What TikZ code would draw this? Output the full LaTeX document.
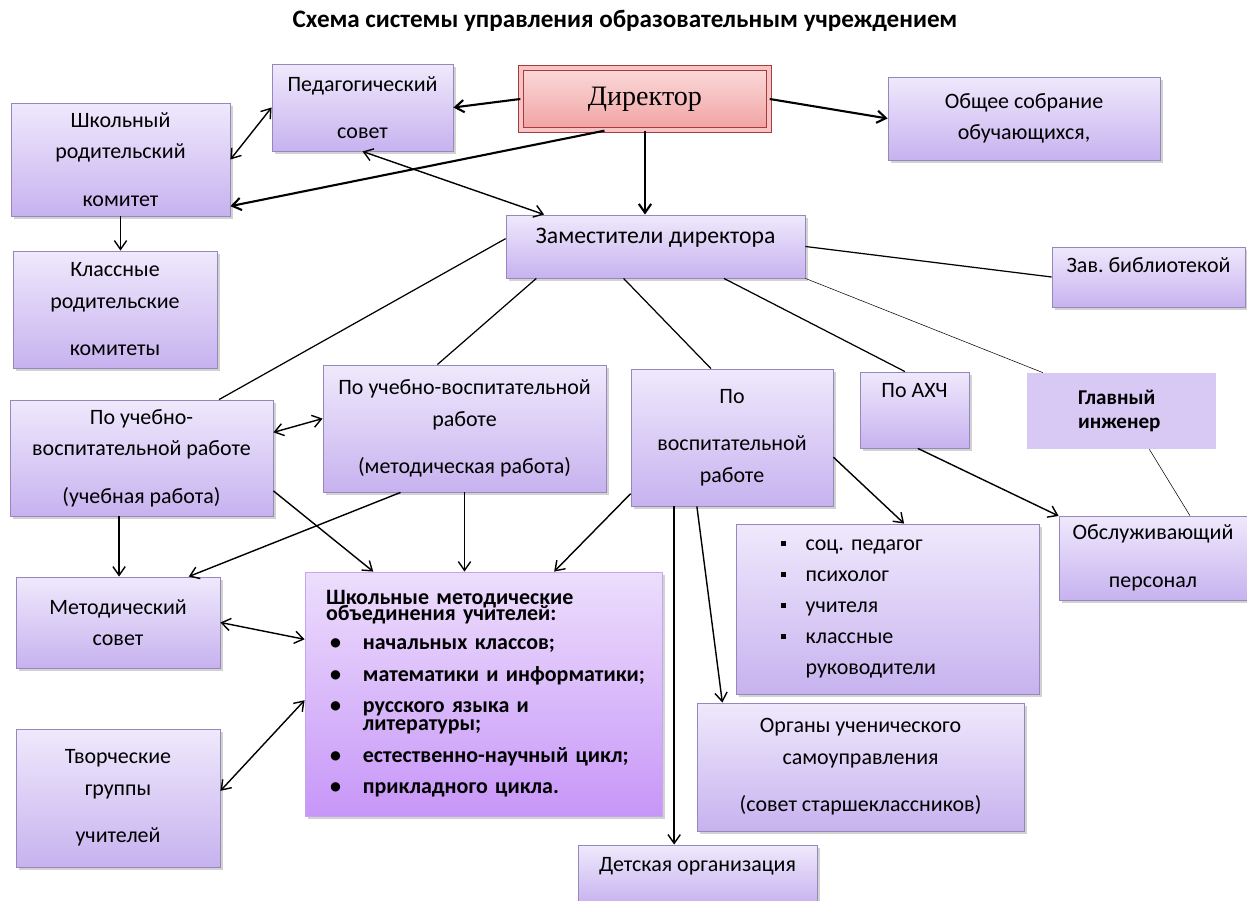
\documentclass[tikz,border=0pt]{standalone}
\usepackage{fontspec}
\setmainfont{Carlito}
\newfontfamily\dirfont{Liberation Serif}
\usepackage{tikz}
\usetikzlibrary{shadows,arrows.meta}

\definecolor{boxtop}{RGB}{239,233,252}
\definecolor{boxbot}{RGB}{199,178,239}
\definecolor{boxline}{RGB}{150,136,186}
\definecolor{shmotop}{RGB}{237,222,252}
\definecolor{shmobot}{RGB}{199,150,248}
\definecolor{shmoline}{RGB}{196,165,238}
\definecolor{dirtop}{RGB}{251,218,218}
\definecolor{dirbot}{RGB}{241,162,162}
\definecolor{dirline}{RGB}{168,58,58}
\definecolor{dirband}{RGB}{246,196,196}
\definecolor{ingfill}{RGB}{216,200,244}

\newcommand\shmohead{\hspace*{5.7pt}}
\newcommand\shmobul{\hspace*{8pt}\makebox[18.7pt][l]{\textbullet}}
\newcommand\specbul{\makebox[14pt][l]{\rule[2.5pt]{3pt}{3pt}}}

\tikzset{
  box/.style={draw=boxline, line width=0.5pt, top color=boxtop, bottom color=boxbot,
    drop shadow={shadow xshift=1.6pt, shadow yshift=-1.6pt, opacity=0.35},
    align=center, inner sep=2pt, font=\fontsize{12.5}{15}\selectfont},
  dirbox/.style={draw=dirline, line width=0.8pt, double=dirband, double distance=2.2pt,
    top color=dirtop, bottom color=dirbot,
    drop shadow={shadow xshift=1.6pt, shadow yshift=-1.6pt, opacity=0.35},
    font=\dirfont\fontsize{16}{19}\selectfont},
  shmobox/.style={draw=shmoline, line width=0.5pt, top color=shmotop, bottom color=shmobot,
    drop shadow={shadow xshift=1.6pt, shadow yshift=-1.6pt, opacity=0.35},
    align=left, font=\fontsize{12.5}{15}\selectfont\bfseries},
  ingbox/.style={fill=ingfill, align=left, font=\fontsize{12}{13.6}\selectfont\bfseries},
  conn/.style={line width=0.7pt},
  thinln/.style={line width=0.3pt},
  arr/.style={->, line width=0.8pt},
  darr/.style={<->, line width=0.8pt},
  dirarr/.style={->, line width=1.2pt}
}

\begin{document}
\begin{tikzpicture}[x=0.02cm, y=-0.02cm, >={Straight Barb[length=5pt,width=7pt]}]
\fill[white] (0,0) rectangle (1247,901);
\useasboundingbox (0,0) rectangle (1247,901);

\node (title) at (625,21) {\fontsize{14.3}{17}\selectfont\bfseries Схема системы управления образовательным учреждением};

\node[dirbox, minimum width=4.96cm, minimum height=1.24cm] at (645,99) (dir) {Директор};
\node[box, minimum width=3.62cm, minimum height=1.74cm] at (362.5,107.5) (ped) {Педагогический\\[12pt]совет};
\node[box, minimum width=4.38cm, minimum height=2.26cm] at (120.5,159.5) (srk) {Школьный\\[3pt]родительский\\[12pt]комитет};
\node[box, minimum width=4.08cm, minimum height=2.34cm] at (115,309.5) (krk) {Классные\\[3pt]родительские\\[12pt]комитеты};
\node[box, minimum width=5.44cm, minimum height=1.66cm] at (1024,118.5) (obs) {Общее собрание\\[3pt]обучающихся,};
\node[box, minimum width=5.98cm, minimum height=1.26cm, text depth=12pt,
    font=\fontsize{13.5}{16}\selectfont] at (655.5,246.5) (zam) {Заместители директора};
\node[box, minimum width=3.86cm, minimum height=1.2cm, text depth=14pt] at (1148.5,277) (lib) {Зав.\ библиотекой};

\node[box, minimum width=5.26cm, minimum height=2.32cm] at (141.5,458) (uvr1) {По учебно-\\[3pt]воспитательной работе\\[12pt](учебная работа)};
\node[box, minimum width=5.66cm, minimum height=2.54cm] at (464.5,428.5) (uvr2) {По учебно-воспитательной\\[3pt]работе\\[12pt](методическая работа)};
\node[box, minimum width=4.04cm, minimum height=2.74cm] at (732,437.5) (vr) {По\\[12pt]воспитательной\\[3pt]работе};
\node[box, minimum width=2.18cm, minimum height=1.52cm, text depth=22pt] at (914.5,410) (ahch) {По АХЧ};
\node[ingbox, text width=1.74cm, inner xsep=1.02cm, minimum height=1.52cm] at (1121.5,411) (ing) {Главный\\инженер};
\node[box, minimum width=3.76cm, minimum height=1.68cm] at (1153,558) (obsl) {Обслуживающий\\[12pt]персонал};

\node[box, minimum width=4.08cm, minimum height=1.82cm] at (118,622.5) (metsov) {Методический\\[3pt]совет};
\node[box, minimum width=4.08cm, minimum height=2.76cm] at (118,798) (tvor) {Творческие\\[3pt]группы\\[12pt]учителей};
\node[shmobox, text width=6.7cm, inner xsep=0.22cm, minimum height=4.88cm] at (483.5,694) (shmo)
  {\shmohead Школьные методические\\[-6pt]\shmohead объединения учителей:\\[1.5pt]
   \shmobul начальных классов;\\[3pt]
   \shmobul математики и информатики;\\[3pt]
   \shmobul русского языка и\\[-5pt]\hspace*{26.7pt}литературы;\\[3pt]
   \shmobul естественно-научный цикл;\\[3pt]
   \shmobul прикладного цикла.};
\node[box, align=left, text width=4.26cm, inner xsep=0.9cm, minimum height=3.4cm] at (887.5,609) (spec)
  {\specbul соц.\ педагог\\[2.6pt]\specbul психолог\\[2.6pt]\specbul учителя\\[2.6pt]\specbul классные\\[2.6pt]\hspace*{14pt}руководители};
\node[box, minimum width=6.54cm, minimum height=2.56cm] at (860.5,767) (org) {Органы ученического\\[3pt]самоуправления\\[12pt](совет старшеклассников)};
\node[box, minimum width=4.78cm, minimum height=1.2cm, text depth=12pt] at (697.5,875) (det) {Детская организация};

\draw[dirarr] (dir.west) -- (ped.east);
\draw[dirarr] (dir.-142) -- (srk.-23);
\draw[dirarr] (dir.south) -- (dir.south |- zam.north);
\draw[dirarr] (dir.east) -- (obs.west);
\draw[darr] (ped.west) -- (srk.east);
\draw[darr] (ped.south) -- (zam.164);
\draw[arr] (srk.south) -- (srk.south |- krk.north);

\draw[conn] (zam.east) -- (lib.west);
\draw[thinln] (zam.south east) -- (ing.154);
\draw[conn] (zam.177) -- (uvr1.37);
\draw[conn] (zam.-165) -- (uvr2.113);
\draw[conn] (zam.-135) -- (vr.107);
\draw[conn] (zam.-25) -- (ahch.104);

\draw[darr] (uvr1.11) -- (uvr2.176);
\draw[arr] (uvr1.-111) -- (uvr1.-111 |- metsov.north);
\draw[arr] (uvr1.-14) -- (shmo.132);
\draw[arr] (uvr2.-135) -- (metsov.33);
\draw[arr] (uvr2.south) -- (uvr2.south |- shmo.north);
\draw[arr] (vr.-151) -- (shmo.60);
\draw[darr] (metsov.east) -- (shmo.163);
\draw[darr] (tvor.4) -- (shmo.-178);

\draw[arr] (vr.-130) -- (vr.-130 |- det.north);
\draw[arr] (vr.-117) -- (org.155);
\draw[arr] (vr.-11) -- (spec.79);
\draw[arr] (ahch.-85) -- (obsl.156);
\draw[thinln] (ing.-54) -- (obsl.49);
\end{tikzpicture}
\end{document}
